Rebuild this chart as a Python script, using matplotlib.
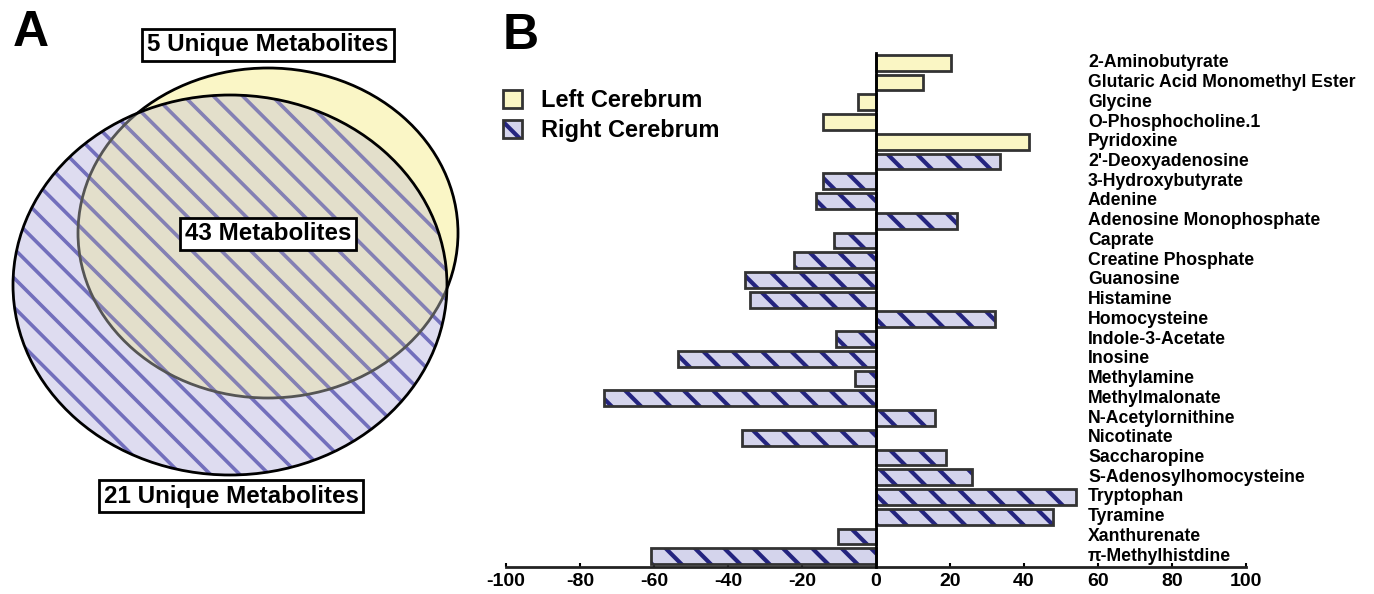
import matplotlib
matplotlib.use("Agg")
import matplotlib.pyplot as plt
from matplotlib.patches import Ellipse, Patch
from matplotlib.legend_handler import HandlerTuple
from matplotlib import transforms

plt.rcParams['font.family'] = ['Liberation Sans', 'DejaVu Sans']
plt.rcParams['font.weight'] = 'bold'

# data
metabolites = ["2-Aminobutyrate", "Glutaric Acid Monomethyl Ester", "Glycine",
               "O-Phosphocholine.1", "Pyridoxine", "2'-Deoxyadenosine",
               "3-Hydroxybutyrate", "Adenine", "Adenosine Monophosphate", "Caprate",
               "Creatine Phosphate", "Guanosine", "Histamine", "Homocysteine",
               "Indole-3-Acetate", "Inosine", "Methylamine", "Methylmalonate",
               "N-Acetylornithine", "Nicotinate", "Saccharopine",
               "S-Adenosylhomocysteine", "Tryptophan", "Tyramine", "Xanthurenate",
               "\u03c0-Methylhistdine"]
values = [20.2, 12.7, -4.8, -14.2, 41.3, 33.6, -14.2, -16.1, 21.8, -11.4,
          -22.2, -35.4, -34.1, 32.1, -10.8, -53.5, -5.7, -73.4, 15.9, -36.3,
          18.8, 26.0, 54.1, 47.8, -10.3, -60.7]
side = ["Left"] * 5 + ["Right"] * 21
xticks = [-100, -80, -60, -40, -20, 0, 20, 40, 60, 80, 100]

n_left_only = 5
n_shared = 43
n_right_only = 21

YELLOW = "#faf6c4"
LAVENDER = "#d4d4ec"
NAVY = "#24247f"
EDGE = "#333333"

# lower dpi so the hatch spacing comes out close to the original; S rescales point sizes
DPI = 88
S = 100 / DPI
fig = plt.figure(figsize=(1374 / DPI, 594 / DPI), dpi=DPI)

# ---- panel A: venn ----
axv = fig.add_axes([0, 0, 1, 1])
axv.set_xlim(0, 1374)
axv.set_ylim(594, 0)
axv.axis("off")

yel_c, yel_w, yel_h = (268, 233), 380, 330
blu_c, blu_w, blu_h = (230, 285), 434, 380

axv.add_patch(Ellipse(yel_c, yel_w, yel_h, facecolor="#faf6c6", edgecolor="black",
                      lw=2 * S, zorder=1))
plt.rcParams['hatch.linewidth'] = 2.6 * S
blue = Ellipse(blu_c, blu_w, blu_h, facecolor="#dedcf0", edgecolor="#726fbc", lw=0,
               hatch="\\", zorder=2)
axv.add_patch(blue)
overlap = Ellipse(yel_c, yel_w, yel_h, facecolor="#e3dfcb", edgecolor="#8480b4", lw=0,
                  hatch="\\", zorder=3)
axv.add_patch(overlap)
overlap.set_clip_path(blue)
inner = Ellipse(yel_c, yel_w, yel_h, fill=False, edgecolor="#555555", lw=2 * S, zorder=4)
axv.add_patch(inner)
inner.set_clip_path(blue)
axv.add_patch(Ellipse(blu_c, blu_w, blu_h, fill=False, edgecolor="black", lw=2 * S,
                      zorder=5))

box = dict(boxstyle="square,pad=0.2", facecolor="white", edgecolor="black", lw=2 * S)
axv.text(268, 45, f"{n_left_only} Unique Metabolites", fontsize=17.4 * S, ha="center",
         va="center", bbox=box, zorder=6)
axv.text(268, 234, f"{n_shared} Metabolites", fontsize=17.4 * S, ha="center",
         va="center", bbox=box, zorder=6)
axv.text(231, 496, f"{n_right_only} Unique Metabolites", fontsize=17.4 * S,
         ha="center", va="center", bbox=box, zorder=6)
fig.text(13 / 1374, 1 - 10 / 594, "A", fontsize=36 * S, ha="left", va="top")
fig.text(503 / 1374, 1 - 13 / 594, "B", fontsize=36 * S, ha="left", va="top")

# ---- panel B: bars ----
ax = fig.add_axes([506 / 1374, 1 - 567 / 594, 740 / 1374, 514 / 594])
pos = list(range(len(metabolites)))
left_idx = [i for i in pos if side[i] == "Left"]
right_idx = [i for i in pos if side[i] == "Right"]

ax.barh(left_idx, [values[i] for i in left_idx], height=0.8, color=YELLOW,
        edgecolor=EDGE, lw=2 * S, zorder=2)
plt.rcParams['hatch.linewidth'] = 3.0 * S
ax.barh(right_idx, [values[i] for i in right_idx], height=0.8, color=LAVENDER,
        edgecolor=NAVY, lw=0, hatch="\\", zorder=2)
ax.barh(right_idx, [values[i] for i in right_idx], height=0.8, fill=False,
        edgecolor=EDGE, lw=2 * S, zorder=3)

ax.set_xlim(-100, 100)
ax.set_ylim(len(metabolites) - 0.45, -0.5)
ax.spines["left"].set_position(("data", 0))
ax.spines["left"].set_linewidth(2 * S)
ax.spines["left"].set_zorder(4)
ax.spines["bottom"].set_linewidth(2 * S)
ax.spines["bottom"].set_color("#222222")
ax.spines["top"].set_visible(False)
ax.spines["right"].set_visible(False)
ax.set_yticks([])
ax.set_xticks(xticks)
ax.set_xticklabels([str(t) for t in xticks])
ax.tick_params(axis="x", direction="in", length=3 * S, width=1.5 * S,
               labelsize=14 * S, pad=4 * S)
ax.patch.set_alpha(0)

trans = transforms.blended_transform_factory(ax.transData, ax.transData)
for i, name in enumerate(metabolites):
    ax.text(57.3, i, name, fontsize=12.7 * S, ha="left", va="center", transform=trans)

h_left = Patch(facecolor=YELLOW, edgecolor=EDGE, lw=2 * S)
h_right = (Patch(facecolor=LAVENDER, edgecolor=NAVY, lw=0, hatch="\\"),
           Patch(fill=False, edgecolor=EDGE, lw=2 * S))
fig.legend([h_left, h_right], ["Left Cerebrum", "Right Cerebrum"],
           handler_map={tuple: HandlerTuple(ndivide=1, pad=0)},
           loc="upper left", bbox_to_anchor=(503 / 1374, 1 - 89 / 594), frameon=False,
           fontsize=17 * S, handlelength=0.8, handleheight=0.8, handletextpad=0.8,
           labelspacing=0.3, borderpad=0, borderaxespad=0)

fig.savefig("out.png", dpi=DPI)
